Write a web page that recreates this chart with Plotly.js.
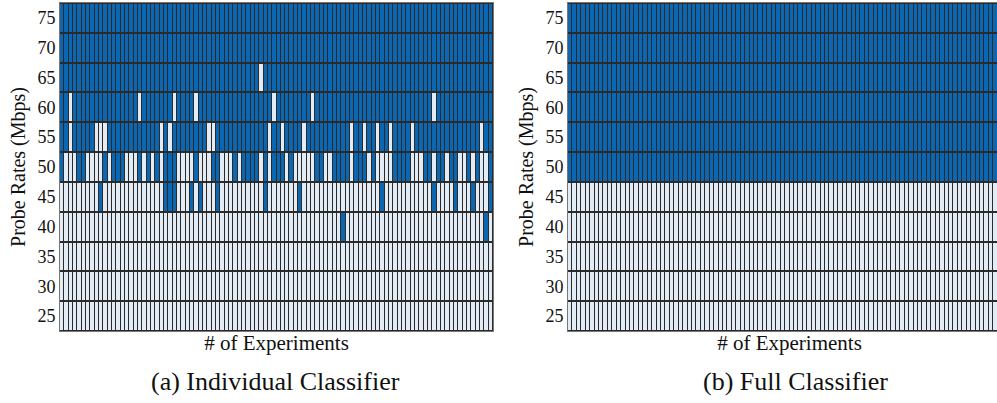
<!DOCTYPE html>
<html>
<head>
<meta charset="utf-8">
<script src="https://cdn.plot.ly/plotly-3.0.1.min.js"></script>
<style>
  html, body { margin: 0; padding: 0; background: #ffffff; overflow: hidden; }
  #chart { width: 1012px; height: 403px; }
</style>
</head>
<body>
<div id="chart"></div>
<script>
// Probe rates (Mbps), bottom row first
const rates = [25, 30, 35, 40, 45, 50, 55, 60, 65, 70, 75];
const rateLabels = ['25', '30', '35', '40', '45', '50', '55', '60', '65', '70', '75'];

// Classifier verdict per experiment (1 = congested, 0 = not congested),
// 100 experiments per rate, written in groups of ten
const individualRows = {
  25: '0000000000 0000000000 0000000000 0000000000 0000000000 0000000000 0000000000 0000000000 0000000000 0000000000',
  30: '0000000000 0000000000 0000000000 0000000000 0000000000 0000000000 0000000000 0000000000 0000000000 0000000000',
  35: '0000000000 0000000000 0000000000 0000000000 0000000000 0000000000 0000000000 0000000000 0000000000 0000000000',
  40: '0000000000 0000000000 0000000000 0000000000 0000000000 0000000000 0000010000 0000000000 0000000000 0000000010',
  45: '0000000001 0000000000 0000111000 1010001000 0000000100 0000010000 0000000000 0000100000 0000001000 0100010001',
  50: '1000110000 1011100010 1010111000 0100011000 1011110101 1101000001 1001111011 1010000111 1000110110 1100101001',
  55: '1101111100 0111111111 1110101111 1111001111 1111111101 1011110111 1111111011 0110110111 1011111111 1111111011',
  60: '1101111111 1111111101 1111110111 1011111111 1111111110 1111111101 1111111111 1111111111 1111110111 1111111111',
  65: '1111111111 1111111111 1111111111 1111111111 1111110111 1111111111 1111111111 1111111111 1111111111 1111111111',
  70: '1111111111 1111111111 1111111111 1111111111 1111111111 1111111111 1111111111 1111111111 1111111111 1111111111',
  75: '1111111111 1111111111 1111111111 1111111111 1111111111 1111111111 1111111111 1111111111 1111111111 1111111111'
};

const fullRows = {
  25: '0000000000 0000000000 0000000000 0000000000 0000000000 0000000000 0000000000 0000000000 0000000000 0000000000',
  30: '0000000000 0000000000 0000000000 0000000000 0000000000 0000000000 0000000000 0000000000 0000000000 0000000000',
  35: '0000000000 0000000000 0000000000 0000000000 0000000000 0000000000 0000000000 0000000000 0000000000 0000000000',
  40: '0000000000 0000000000 0000000000 0000000000 0000000000 0000000000 0000000000 0000000000 0000000000 0000000000',
  45: '0000000000 0000000000 0000000000 0000000000 0000000000 0000000000 0000000000 0000000000 0000000000 0000000000',
  50: '1111111111 1111111111 1111111111 1111111111 1111111111 1111111111 1111111111 1111111111 1111111111 1111111111',
  55: '1111111111 1111111111 1111111111 1111111111 1111111111 1111111111 1111111111 1111111111 1111111111 1111111111',
  60: '1111111111 1111111111 1111111111 1111111111 1111111111 1111111111 1111111111 1111111111 1111111111 1111111111',
  65: '1111111111 1111111111 1111111111 1111111111 1111111111 1111111111 1111111111 1111111111 1111111111 1111111111',
  70: '1111111111 1111111111 1111111111 1111111111 1111111111 1111111111 1111111111 1111111111 1111111111 1111111111',
  75: '1111111111 1111111111 1111111111 1111111111 1111111111 1111111111 1111111111 1111111111 1111111111 1111111111'
};

const experimentCount = 100;
const experiments = Array.from({ length: experimentCount }, (_, i) => i + 1);

function toMatrix(rows) {
  return rates.map(r => rows[r].replace(/\s+/g, '').split('').map(Number));
}

const BLUE = '#0b67b2';
const LIGHT = '#e3ecf4';
const GRID = '#2a2a2a';
const serif = 'Liberation Serif, Times New Roman, serif';

function heat(rows, xa, ya) {
  return {
    type: 'heatmap',
    x: experiments,
    y: rates,
    z: toMatrix(rows),
    xaxis: xa,
    yaxis: ya,
    zmin: 0,
    zmax: 1,
    colorscale: [[0, LIGHT], [0.5, LIGHT], [0.5, BLUE], [1, BLUE]],
    showscale: false,
    xgap: 1,
    ygap: 2,
    hoverinfo: 'skip'
  };
}

const W = 1012, H = 403;
const yDom = [(H - 331) / H, (H - 3) / H];

function xAxis(domain, anchor) {
  return {
    domain: domain,
    anchor: anchor,
    showticklabels: false,
    ticks: '',
    showgrid: false,
    zeroline: false,
    showline: true,
    mirror: true,
    linecolor: '#777777',
    linewidth: 1,
    range: [0.5, experimentCount + 0.5],
    title: { text: '# of Experiments', font: { family: serif, size: 21, color: '#111' }, standoff: 4 }
  };
}

function yAxis(anchor) {
  return {
    domain: yDom,
    anchor: anchor,
    tickvals: rates,
    ticktext: rateLabels,
    ticks: '',
    showgrid: false,
    zeroline: false,
    showline: true,
    mirror: true,
    linecolor: '#777777',
    linewidth: 1,
    range: [22.5, 77.5],
    tickfont: { family: serif, size: 18, color: '#111' },
    title: { text: 'Probe Rates (Mbps)', font: { family: serif, size: 20, color: '#111' }, standoff: 6 }
  };
}

const layout = {
  width: W,
  height: H,
  margin: { l: 0, r: 0, t: 0, b: 0 },
  paper_bgcolor: '#ffffff',
  plot_bgcolor: GRID,
  showlegend: false,
  xaxis: xAxis([60 / W, 493 / W], 'y'),
  yaxis: yAxis('x'),
  xaxis2: xAxis([568 / W, 1011 / W], 'y2'),
  yaxis2: yAxis('x2'),
  annotations: [
    { text: '(a) Individual Classifier', xref: 'paper', yref: 'paper', x: 275 / W, y: (H - 381) / H,
      xanchor: 'center', yanchor: 'middle', showarrow: false, font: { family: serif, size: 26, color: '#111' } },
    { text: '(b) Full Classifier', xref: 'paper', yref: 'paper', x: 795 / W, y: (H - 381) / H,
      xanchor: 'center', yanchor: 'middle', showarrow: false, font: { family: serif, size: 26, color: '#111' } }
  ]
};

Plotly.newPlot('chart', [heat(individualRows, 'x', 'y'), heat(fullRows, 'x2', 'y2')], layout,
  { staticPlot: true, displayModeBar: false });
</script>
</body>
</html>
